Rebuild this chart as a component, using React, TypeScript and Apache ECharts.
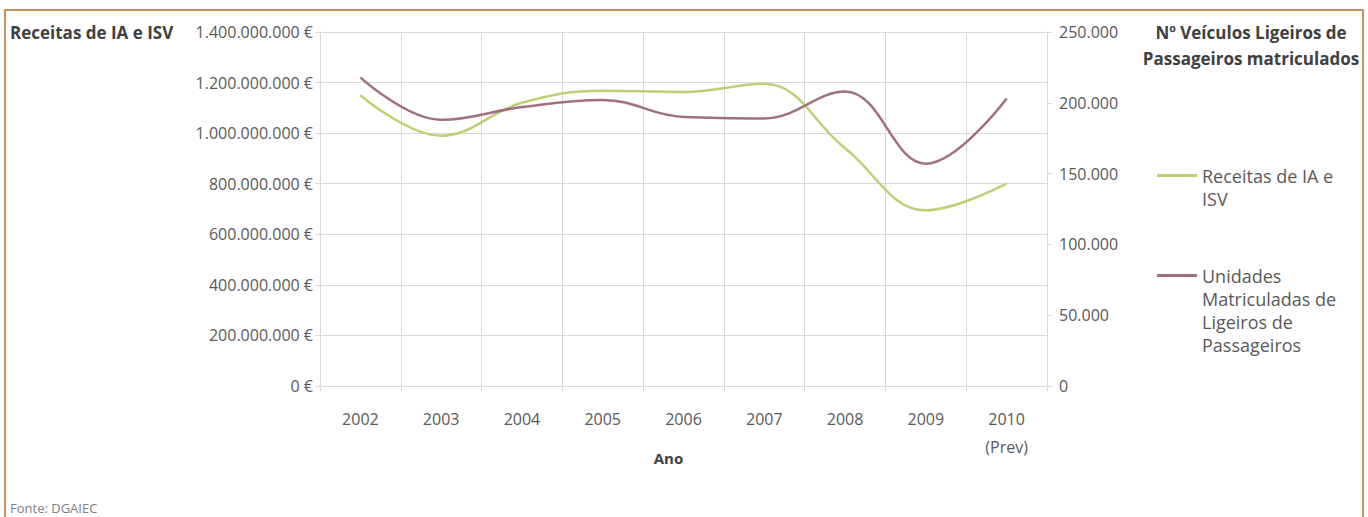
import React, { useEffect, useRef } from "react";
import * as echarts from "echarts";

const years = ["2002", "2003", "2004", "2005", "2006", "2007", "2008", "2009", "2010\n(Prev)"];
const receitas = [1150e6, 990e6, 1120e6, 1168e6, 1163e6, 1195e6, 940e6, 695e6, 800e6];
const unidades = [218000, 188000, 197000, 202000, 190000, 189000, 208000, 157000, 203000];
const seriesNames = ["Receitas de IA e ISV", "Unidades Matriculadas de Ligeiros de Passageiros"];
const legendLabels = ["\nReceitas de IA e\nISV", "\n\n\nUnidades\nMatriculadas de\nLigeiros de\nPassageiros"];

const FONT = "Open Sans";
const TXT = "#595959";
const GRID = "#D9D9D9";
const GREEN = "#BFCF74";
const PURPLE = "#A0707F";

function dots(v: number): string {
  return String(Math.round(v)).replace(/\B(?=(\d{3})+(?!\d))/g, ".");
}

export default function App() {
  const ref = useRef<HTMLDivElement>(null);
  useEffect(() => {
    if (!ref.current) return;
    const chart = echarts.init(ref.current, null, { renderer: "svg" });
    const legendText = { fontFamily: FONT, fontSize: 18, color: TXT, lineHeight: 23 };
    chart.setOption({
      animation: false,
      backgroundColor: "#ffffff",
      textStyle: { fontFamily: FONT },
      grid: { left: 320, right: 321, top: 32, bottom: 131 },
      legend: [
        {
          data: [seriesNames[0]],
          orient: "vertical",
          left: 1157,
          top: 141,
          padding: 0,
          icon: "rect",
          itemWidth: 40,
          itemHeight: 3,
          formatter: () => legendLabels[0],
          textStyle: legendText,
        },
        {
          data: [seriesNames[1]],
          orient: "vertical",
          left: 1157,
          top: 195,
          padding: 0,
          icon: "rect",
          itemWidth: 40,
          itemHeight: 3,
          formatter: () => legendLabels[1],
          textStyle: legendText,
        },
      ],
      xAxis: {
        type: "category",
        data: years,
        boundaryGap: true,
        name: "Ano",
        nameLocation: "middle",
        nameGap: 64,
        nameMoveOverlap: false,
        nameTextStyle: {
          fontFamily: FONT,
          fontSize: 15,
          fontWeight: "bold",
          color: "#404040",
          padding: [0, 30, 0, 0],
        },
        axisLine: { show: true, lineStyle: { color: GRID } },
        axisTick: { show: true, length: 5, lineStyle: { color: GRID } },
        axisLabel: { fontFamily: FONT, fontSize: 16, color: TXT, lineHeight: 28, margin: 19 },
        splitLine: { show: true, lineStyle: { color: GRID } },
      },
      yAxis: [
        {
          type: "value",
          min: 0,
          max: 1400e6,
          interval: 200e6,
          axisLine: { show: true, lineStyle: { color: GRID } },
          axisTick: { show: true, length: 5, lineStyle: { color: GRID } },
          axisLabel: {
            fontFamily: FONT,
            fontSize: 16,
            color: TXT,
            margin: 7,
            formatter: (v: number) => dots(v) + " €",
          },
          splitLine: { show: true, lineStyle: { color: GRID } },
        },
        {
          type: "value",
          min: 0,
          max: 250000,
          interval: 50000,
          position: "right",
          axisLine: { show: true, lineStyle: { color: GRID } },
          axisTick: { show: true, length: 5, lineStyle: { color: GRID } },
          axisLabel: {
            fontFamily: FONT,
            fontSize: 16,
            color: TXT,
            margin: 12,
            formatter: (v: number) => dots(v),
          },
          splitLine: { show: false },
        },
      ],
      series: [
        {
          name: seriesNames[0],
          type: "line",
          data: receitas,
          yAxisIndex: 0,
          smooth: 0.4,
          showSymbol: false,
          symbol: "none",
          lineStyle: { color: GREEN, width: 2.5 },
          itemStyle: { color: GREEN },
        },
        {
          name: seriesNames[1],
          type: "line",
          data: unidades,
          yAxisIndex: 1,
          smooth: 0.4,
          showSymbol: false,
          symbol: "none",
          lineStyle: { color: PURPLE, width: 2.5 },
          itemStyle: { color: PURPLE },
        },
      ],
      graphic: [
        {
          type: "rect",
          shape: { x: 5, y: 10, width: 1358, height: 540 },
          style: { fill: "none", stroke: "#C0935F", lineWidth: 2 },
          silent: true,
        },
        {
          type: "text",
          x: 10,
          y: 32,
          style: {
            text: "Receitas de IA e ISV",
            fontFamily: FONT,
            fontSize: 17,
            fontWeight: "bold",
            fill: "#404040",
            verticalAlign: "middle",
          },
        },
        {
          type: "text",
          x: 1251,
          y: 45,
          style: {
            text: "Nº Veículos Ligeiros de\nPassageiros matriculados",
            fontFamily: FONT,
            fontSize: 17,
            fontWeight: "bold",
            fill: "#404040",
            align: "center",
            verticalAlign: "middle",
            lineHeight: 26,
          },
        },
        {
          type: "text",
          x: 10,
          y: 508,
          style: {
            text: "Fonte: DGAIEC",
            fontFamily: FONT,
            fontSize: 13,
            fill: "#808080",
            verticalAlign: "middle",
          },
        },
      ],
    });
    return () => chart.dispose();
  }, []);
  return <div ref={ref} style={{ position: "fixed", left: 0, top: 0, width: 1368, height: 517 }} />;
}
